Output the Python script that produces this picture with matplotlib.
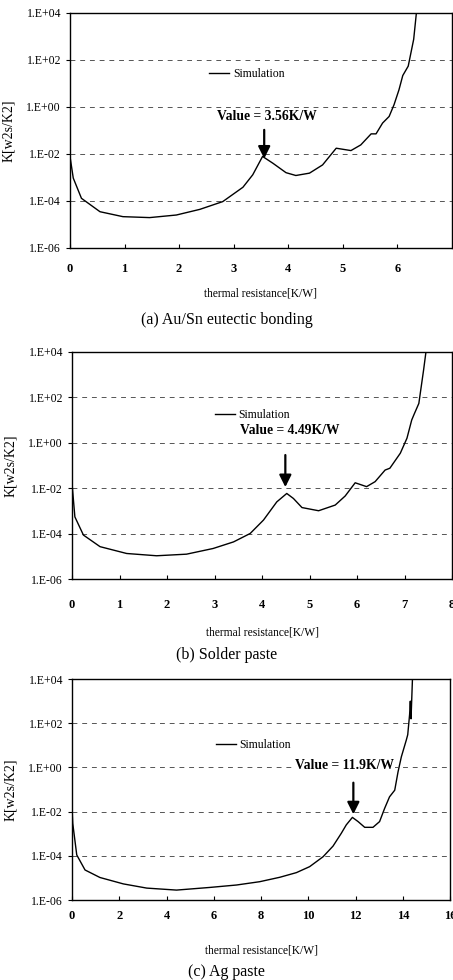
import matplotlib
matplotlib.use('Agg')
import matplotlib.pyplot as plt
from matplotlib.ticker import FixedLocator, FuncFormatter, NullLocator
import numpy as np

plt.rcParams.update({
    "font.family": ["Liberation Serif", "DejaVu Serif"],
    "font.size": 8,
})

# ---------------------------------------------------------------------------
# Data (x = thermal resistance [K/W], y = log10 K)
# ---------------------------------------------------------------------------
au_x = [0.0, 0.06, 0.21, 0.55, 0.97, 1.46, 1.95, 2.38, 2.8, 3.17, 3.35,
        3.53, 3.72, 3.96, 4.14, 4.39, 4.63, 4.88, 5.15, 5.33, 5.52, 5.61, 5.73,
        5.85, 5.94, 6.03, 6.1, 6.2, 6.3, 6.35]
au_logk = [-2.11, -3.03, -3.89, -4.46, -4.67, -4.71, -4.6, -4.36, -4.03,
           -3.42, -2.89, -2.11, -2.4, -2.8, -2.92, -2.82, -2.47, -1.76, -1.86,
           -1.62, -1.15, -1.15, -0.69, -0.41, 0.09, 0.72, 1.33, 1.73, 2.87, 4.0]

sp_x = [0.0, 0.06, 0.24, 0.59, 1.15, 1.78, 2.41, 2.97, 3.4, 3.75, 4.03,
        4.31, 4.52, 4.66, 4.84, 5.19, 5.54, 5.75, 5.96, 6.2, 6.38, 6.59, 6.69,
        6.91, 7.05, 7.15, 7.2, 7.3, 7.4, 7.45]
sp_logk = [-1.8, -3.26, -4.06, -4.57, -4.87, -4.97, -4.9, -4.65, -4.36,
           -3.99, -3.4, -2.6, -2.23, -2.45, -2.85, -2.99, -2.74, -2.34, -1.76,
           -1.93, -1.71, -1.2, -1.12, -0.46, 0.2, 1.0, 1.25, 1.73, 3.2, 4.0]

ag_x = [0.0, 0.03, 0.2, 0.55, 1.18, 2.17, 3.16, 4.42, 5.83, 6.96, 7.94, 8.79,
        9.49, 10.05, 10.62, 11.04, 11.39, 11.6, 11.86, 12.1, 12.38, 12.73, 13.01,
        13.22, 13.43, 13.65, 13.79, 13.93, 14.14, 14.2, 14.28, 14.31, 14.34, 14.4]
ag_logk = [-1.8, -2.53, -3.96, -4.64, -4.98, -5.27, -5.46, -5.55, -5.43, -5.32,
           -5.17, -4.97, -4.76, -4.49, -4.04, -3.56, -2.98, -2.6, -2.26, -2.45,
           -2.71, -2.71, -2.45, -1.86, -1.33, -1.03, -0.2, 0.48, 1.24, 1.48, 2.4,
           3.0, 2.2, 4.0]

y_ticks = [1e-6, 1e-4, 1e-2, 1e0, 1e2, 1e4]

panels = [
    dict(x=au_x, y=au_logk, xmax=7, xticks=[0, 1, 2, 3, 4, 5, 6],
         value=3.56, label="Value = 3.56K/W", text_xy=(3.6, -0.41),
         arrow=(-0.98, -2.2), legend_xy=(0.365, 0.74),
         caption="(a) Au/Sn eutectic bonding", tick_pad=11, label_pad=9,
         rect=[0.1545, 0.747, 0.843, 0.240], cap_y=320),
    dict(x=sp_x, y=sp_logk, xmax=8, xticks=[0, 1, 2, 3, 4, 5, 6, 7, 8],
         value=4.49, label="Value = 4.49K/W", text_xy=(4.59, 0.56),
         arrow=(-0.54, -1.95), legend_xy=(0.375, 0.72),
         caption="(b) Solder paste", tick_pad=14.5, label_pad=11,
         rect=[0.159, 0.409, 0.839, 0.232], cap_y=655),
    dict(x=ag_x, y=ag_logk, xmax=16, xticks=[0, 2, 4, 6, 8, 10, 12, 14, 16],
         value=11.9, label="Value = 11.9K/W", text_xy=(11.53, 0.11),
         arrow=(-0.69, -2.12), legend_xy=(0.38, 0.70),
         caption="(c) Ag paste", tick_pad=7, label_pad=16.5,
         rect=[0.159, 0.0816, 0.835, 0.2255], cap_y=972),
]

fig = plt.figure(figsize=(4.53, 9.8), dpi=100)

for p in panels:
    ax = fig.add_axes(p["rect"])
    ax.plot(p["x"], 10 ** np.array(p["y"]), color="black", lw=1.0, label="Simulation")
    ax.set_yscale("log")
    ax.set_ylim(1e-6, 1e4)
    ax.set_xlim(0, p["xmax"])
    ax.yaxis.set_major_locator(FixedLocator(y_ticks))
    ax.yaxis.set_minor_locator(NullLocator())
    ax.yaxis.set_major_formatter(FuncFormatter(
        lambda v, pos: "1.E%+03d" % int(round(np.log10(v)))))
    ax.set_xticks(p["xticks"])
    ax.tick_params(axis="x", direction="in", length=3, labelsize=9, pad=p["tick_pad"])
    ax.tick_params(axis="y", direction="out", length=3, labelsize=8.5)
    for lab in ax.get_xticklabels():
        lab.set_fontweight("bold")
    ax.yaxis.grid(True, linestyle=(0, (5, 5)), color="#555555", lw=0.7)
    for s in ax.spines.values():
        s.set_linewidth(1.0)

    ax.set_ylabel("K[w2s/K2]", fontsize=10)
    ax.yaxis.set_label_coords(-0.145, 0.5)
    ax.set_xlabel("thermal resistance[K/W]", fontsize=8.3, labelpad=p["label_pad"])

    ax.annotate("", xy=(p["value"], 10 ** p["arrow"][1]),
                xytext=(p["value"], 10 ** p["arrow"][0]),
                arrowprops=dict(arrowstyle="-|>,head_width=0.45,head_length=0.9",
                                color="black", lw=1.6, shrinkA=0, shrinkB=0))
    ax.text(p["text_xy"][0], 10 ** p["text_xy"][1], p["label"], ha="center",
            va="center", fontsize=9.8, fontweight="bold",
            bbox=dict(facecolor="white", edgecolor="none", pad=0.5))

    ax.legend(loc="center left", bbox_to_anchor=p["legend_xy"], frameon=False,
              fontsize=8.5, handlelength=1.7, handletextpad=0.3, borderpad=0,
              borderaxespad=0)

    fig.text(0.5, 1 - p["cap_y"] / 980, p["caption"], ha="center", va="center",
             fontsize=11.5)

fig.savefig("out.png", dpi=100)
